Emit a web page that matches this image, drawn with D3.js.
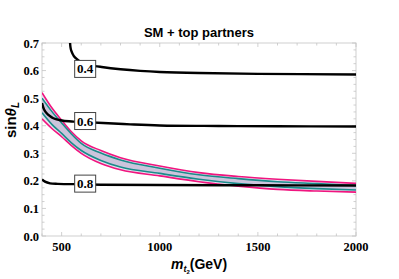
<!DOCTYPE html>
<html>
<head>
<meta charset="utf-8">
<script src="https://cdn.jsdelivr.net/npm/d3@7"></script>
<style>
  body { margin: 0; background: #fff; }
  svg { display: block; }
</style>
</head>
<body>
<script>
const width = 399;
const height = 279;
const SERIF = '"Liberation Serif", "Times New Roman", serif';
const SANS = '"Liberation Sans", Arial, sans-serif';

// contour lines (labelled 0.4 / 0.6 / 0.8)
const c04M = [543, 545, 549, 555, 562, 575, 594, 620, 650, 704, 800, 900, 1000, 1200, 1500, 2000];
const c04V = [0.70, 0.685, 0.672, 0.662, 0.653, 0.643, 0.633, 0.625, 0.619, 0.613, 0.605, 0.599, 0.595, 0.591, 0.588, 0.586];
const c06M = [400, 410, 424, 440, 458, 480, 508, 560, 620, 712, 850, 1000, 1300, 1600, 2000];
const c06V = [0.482, 0.46, 0.445, 0.435, 0.427, 0.422, 0.418, 0.415, 0.413, 0.41, 0.405, 0.401, 0.399, 0.398, 0.397];
const c08M = [400, 415, 441, 480, 560, 700, 1000, 1500, 2000];
const c08V = [0.205, 0.197, 0.191, 0.189, 0.188, 0.186, 0.185, 0.184, 0.183];

// contour labels
const labelText = ["0.4", "0.6", "0.8"];
const labelM = [620, 620, 620];
const labelV = [0.606, 0.417, 0.19];

// band
const bandM = [400, 450, 500, 550, 600, 700, 800, 1000, 1200, 1400, 1600, 1800, 2000];
const upperPink = [0.52, 0.465, 0.42, 0.378, 0.345, 0.31, 0.284, 0.254, 0.23, 0.216, 0.206, 0.198, 0.191];
const upperTeal = [0.50, 0.452, 0.41, 0.37, 0.336, 0.301, 0.276, 0.246, 0.222, 0.208, 0.197, 0.19, 0.183];
const lowerTeal = [0.447, 0.405, 0.372, 0.338, 0.31, 0.274, 0.25, 0.227, 0.206, 0.19, 0.179, 0.172, 0.167];
const lowerPink = [0.425, 0.39, 0.36, 0.328, 0.30, 0.263, 0.24, 0.218, 0.197, 0.181, 0.169, 0.163, 0.159];

// ticks
const xTicks = [500, 1000, 1500, 2000];
const yTicks = [0.0, 0.1, 0.2, 0.3, 0.4, 0.5, 0.6, 0.7];

const margin = { left: 42, right: 43, top: 43, bottom: 43 };

const svg = d3.select("body").append("svg")
  .attr("width", width).attr("height", height);

const x = d3.scaleLinear().domain([400, 2000]).range([margin.left, width - margin.right]);
const y = d3.scaleLinear().domain([0, 0.7]).range([height - margin.bottom, margin.top]);

svg.append("defs").append("clipPath").attr("id", "clip")
  .append("rect")
  .attr("x", x(400)).attr("y", y(0.7))
  .attr("width", x(2000) - x(400)).attr("height", y(0) - y(0.7));

// frame
svg.append("rect")
  .attr("x", x(400)).attr("y", y(0.7))
  .attr("width", x(2000) - x(400)).attr("height", y(0) - y(0.7))
  .attr("fill", "none").attr("stroke", "#cfcfcf").attr("stroke-width", 1);

// ticks all four sides, pointing in
const minorX = d3.range(400, 2001, 100);
const minorY = d3.range(0, 0.7001, 0.025);
const tickColor = "#c4c4c4";
const tg = svg.append("g").attr("stroke", tickColor).attr("stroke-width", 0.8);
minorX.forEach((d) => {
  const len = d % 500 === 0 ? 4 : 2.5;
  tg.append("line").attr("x1", x(d)).attr("x2", x(d)).attr("y1", y(0)).attr("y2", y(0) - len);
  tg.append("line").attr("x1", x(d)).attr("x2", x(d)).attr("y1", y(0.7)).attr("y2", y(0.7) + len);
});
minorY.forEach((d, i) => {
  const len = i % 4 === 0 ? 4 : 2.5;
  tg.append("line").attr("y1", y(d)).attr("y2", y(d)).attr("x1", x(400)).attr("x2", x(400) + len);
  tg.append("line").attr("y1", y(d)).attr("y2", y(d)).attr("x1", x(2000)).attr("x2", x(2000) - len);
});

// tick labels
svg.append("g").selectAll("text").data(xTicks).join("text")
  .attr("x", (d) => x(d)).attr("y", y(0) + 15)
  .attr("text-anchor", "middle")
  .style("font-family", SERIF).style("font-weight", "bold").style("font-size", "12.5px")
  .text((d) => d);

svg.append("g").selectAll("text").data(yTicks).join("text")
  .attr("x", x(400) - 3).attr("y", (d) => y(d) + 4.5)
  .attr("text-anchor", "end")
  .style("font-family", SERIF).style("font-weight", "bold").style("font-size", "12.5px")
  .text((d) => d.toFixed(1));

const plot = svg.append("g").attr("clip-path", "url(#clip)");

// band
const bandRows = bandM.map((m, i) => ({ m, up: upperPink[i], ut: upperTeal[i], lt: lowerTeal[i], lp: lowerPink[i] }));
const curve = d3.curveMonotoneX;
plot.append("path").datum(bandRows)
  .attr("d", d3.area().curve(curve).x((d) => x(d.m)).y0((d) => y(d.lp)).y1((d) => y(d.up)))
  .attr("fill", "#e6e1ef");
plot.append("path").datum(bandRows)
  .attr("d", d3.area().curve(curve).x((d) => x(d.m)).y0((d) => y(d.lt)).y1((d) => y(d.ut)))
  .attr("fill", "#ccc4dc");

const bandLine = (key, color) => plot.append("path").datum(bandRows)
  .attr("d", d3.line().curve(curve).x((d) => x(d.m)).y((d) => y(d[key])))
  .attr("fill", "none").attr("stroke", color).attr("stroke-width", 1.6);
bandLine("up", "#f0157f");
bandLine("lp", "#f0157f");
bandLine("ut", "#1a8b8a");
bandLine("lt", "#1a8b8a");

// contours
const contour = (ms, vs) => plot.append("path")
  .datum(ms.map((m, i) => [m, vs[i]]))
  .attr("d", d3.line().curve(d3.curveCatmullRom).x((d) => x(d[0])).y((d) => y(d[1])))
  .attr("fill", "none").attr("stroke", "#000").attr("stroke-width", 2.4);
contour(c04M, c04V);
contour(c06M, c06V);
contour(c08M, c08V);

// contour labels
const lg = svg.append("g").selectAll("g").data(labelText).join("g")
  .attr("transform", (d, i) => `translate(${x(labelM[i])},${y(labelV[i])})`);
lg.append("rect")
  .attr("x", -10.5).attr("y", -8.5).attr("width", 21).attr("height", 17)
  .attr("fill", "#fff").attr("stroke", "#444").attr("stroke-width", 1);
lg.append("text")
  .attr("y", 4.5).attr("text-anchor", "middle")
  .style("font-family", SERIF).style("font-weight", "bold").style("font-size", "13px")
  .text((d) => d);

// title
svg.append("text")
  .attr("x", (x(400) + x(2000)) / 2).attr("y", 37)
  .attr("text-anchor", "middle")
  .style("font-family", SANS).style("font-weight", "bold").style("font-size", "13px")
  .text("SM + top partners");

// x label
const xl = svg.append("text")
  .attr("x", (x(400) + x(2000)) / 2).attr("y", 269)
  .attr("text-anchor", "middle")
  .style("font-family", SANS).style("font-weight", "bold").style("font-size", "14px");
xl.append("tspan").style("font-style", "italic").text("m");
xl.append("tspan").style("font-style", "italic").style("font-size", "9px").attr("dy", 3).text("t");
xl.append("tspan").style("font-size", "6px").attr("dy", 2).text("2");
xl.append("tspan").attr("dy", -5).text("(GeV)");

// y label
const yl = svg.append("text")
  .attr("transform", `translate(16,120) rotate(-90)`)
  .attr("text-anchor", "middle")
  .style("font-family", SANS).style("font-weight", "bold").style("font-size", "15px");
yl.append("tspan").text("sin");
yl.append("tspan").style("font-style", "italic").text("θ");
yl.append("tspan").style("font-style", "italic").style("font-size", "10px").attr("dy", 3).text("L");
</script>
</body>
</html>
